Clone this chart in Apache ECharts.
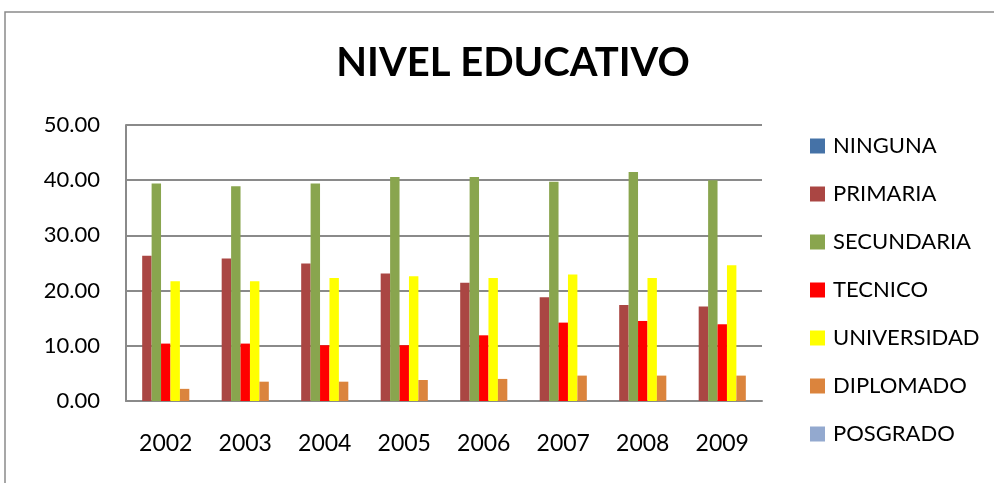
<!DOCTYPE html>
<html>
<head>
<meta charset="utf-8">
<script src="https://cdn.jsdelivr.net/npm/echarts@6/dist/echarts.min.js"></script>
<style>
  html, body { margin: 0; padding: 0; background: #fff; }
  #chart { width: 994px; height: 483px; }
</style>
</head>
<body>
<div id="chart"></div>
<script>
// años
const years = ["2002", "2003", "2004", "2005", "2006", "2007", "2008", "2009"];
// valores por nivel
const ninguna = [0, 0, 0, 0, 0, 0, 0, 0];
const primaria = [26.3, 25.8, 24.9, 23.1, 21.4, 18.8, 17.4, 17.1];
const secundaria = [39.4, 38.9, 39.4, 40.6, 40.6, 39.7, 41.5, 40.0];
const tecnico = [10.4, 10.4, 10.1, 10.1, 11.9, 14.2, 14.5, 13.9];
const universidad = [21.7, 21.7, 22.3, 22.6, 22.3, 22.9, 22.3, 24.6];
const diplomado = [2.2, 3.5, 3.5, 3.8, 4.0, 4.6, 4.6, 4.6];
const posgrado = [0, 0, 0, 0, 0, 0, 0, 0];
const yTicks = [0, 10, 20, 30, 40, 50];

const names = ["NINGUNA", "PRIMARIA", "SECUNDARIA", "TECNICO", "UNIVERSIDAD", "DIPLOMADO", "POSGRADO"];
const values = [ninguna, primaria, secundaria, tecnico, universidad, diplomado, posgrado];
const colors = ["#4572A7", "#AA4643", "#89A54E", "#FF0000", "#FFFF00", "#DB843D", "#93A9CF"];

const font = "Lato, 'Open Sans', sans-serif";

const option = {
  animation: false,
  color: colors,
  title: {
    text: "NIVEL EDUCATIVO",
    left: 508,
    textAlign: "center",
    top: 38,
    textStyle: { fontFamily: font, fontSize: 40, fontWeight: "bold", color: "#000" }
  },
  legend: {
    orient: "vertical",
    left: 805,
    top: 130,
    itemWidth: 15,
    itemHeight: 15,
    itemGap: 26,
    icon: "rect",
    data: names,
    textStyle: { fontFamily: font, fontSize: 22, lineHeight: 22, color: "#000", padding: [0, 0, 0, 3] }
  },
  graphic: [{
    type: "rect",
    shape: { x: 5, y: 12, width: 1100, height: 600 },
    style: { fill: "none", stroke: "#8a8a8a", lineWidth: 1.5 },
    silent: true
  }],
  grid: { left: 126, right: 232, top: 125, bottom: 82 },
  xAxis: {
    type: "category",
    data: years,
    axisLine: { lineStyle: { color: "#8a8a8a", width: 2 } },
    axisTick: { show: false },
    axisLabel: { fontFamily: font, fontSize: 23, color: "#000", margin: 31 }
  },
  yAxis: {
    type: "value",
    min: yTicks[0],
    max: yTicks[yTicks.length - 1],
    interval: 10,
    axisLine: { show: true, lineStyle: { color: "#8a8a8a", width: 2 } },
    axisTick: { show: false },
    splitLine: { lineStyle: { color: "#8a8a8a", width: 2 } },
    axisLabel: {
      fontFamily: font, fontSize: 22, color: "#000", margin: 26,
      formatter: v => v.toFixed(2)
    }
  },
  series: names.map((n, i) => ({
    name: n,
    type: "bar",
    data: values[i],
    barGap: 0,
    barCategoryGap: "17%"
  }))
};

echarts.init(document.getElementById("chart")).setOption(option);
</script>
</body>
</html>
